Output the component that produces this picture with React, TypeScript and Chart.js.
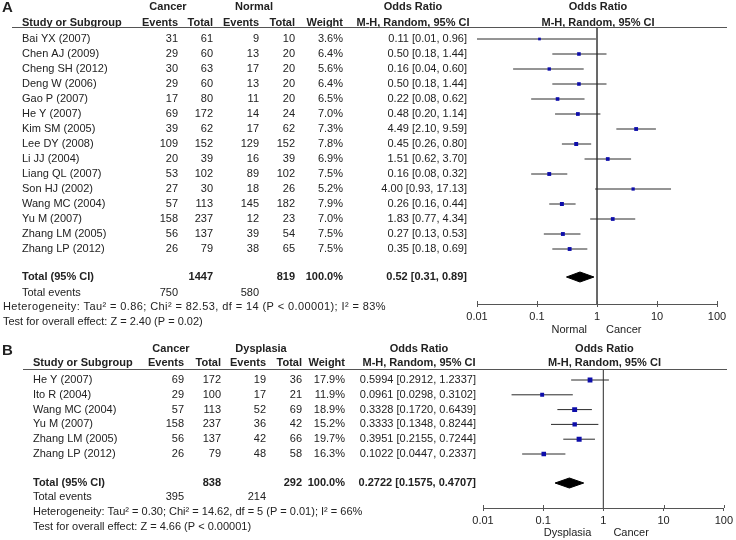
import React, { useEffect, useRef } from "react";
import { Chart, registerables } from "chart.js";

Chart.register(...registerables);

// ---------------- Panel A: Cancer vs Normal ----------------
const studiesA = [
  "Bai YX (2007)", "Chen AJ (2009)", "Cheng SH (2012)", "Deng W (2006)", "Gao P (2007)",
  "He Y (2007)", "Kim SM (2005)", "Lee DY (2008)", "Li JJ (2004)", "Liang QL (2007)",
  "Son HJ (2002)", "Wang MC (2004)", "Yu M (2007)", "Zhang LM (2005)", "Zhang LP (2012)",
];
const cancerEventsA = [31, 29, 30, 29, 17, 69, 39, 109, 20, 53, 27, 57, 158, 56, 26];
const cancerTotalA = [61, 60, 63, 60, 80, 172, 62, 152, 39, 102, 30, 113, 237, 137, 79];
const normalEventsA = [9, 13, 17, 13, 11, 14, 17, 129, 16, 89, 18, 145, 12, 39, 38];
const normalTotalA = [10, 20, 20, 20, 20, 24, 62, 152, 39, 102, 26, 182, 23, 54, 65];
const weightA = [3.6, 6.4, 5.6, 6.4, 6.5, 7.0, 7.3, 7.8, 6.9, 7.5, 5.2, 7.9, 7.0, 7.5, 7.5];
const oddsA = [0.11, 0.5, 0.16, 0.5, 0.22, 0.48, 4.49, 0.45, 1.51, 0.16, 4.0, 0.26, 1.83, 0.27, 0.35];
const lowerA = [0.01, 0.18, 0.04, 0.18, 0.08, 0.2, 2.1, 0.26, 0.62, 0.08, 0.93, 0.16, 0.77, 0.13, 0.18];
const upperA = [0.96, 1.44, 0.6, 1.44, 0.62, 1.14, 9.59, 0.8, 3.7, 0.32, 17.13, 0.44, 4.34, 0.53, 0.69];
const groupTotalsA = [1447, 819];
const totalEventsA = [750, 580];
const pooledA = [0.52, 0.31, 0.89];
const heterogeneityA = "Heterogeneity: Tau\u00b2 = 0.86; Chi\u00b2 = 82.53, df = 14 (P < 0.00001); I\u00b2 = 83%";
const overallA = "Test for overall effect: Z = 2.40 (P = 0.02)";

// ---------------- Panel B: Cancer vs Dysplasia ----------------
const studiesB = ["He Y (2007)", "Ito R (2004)", "Wang MC (2004)", "Yu M (2007)", "Zhang LM (2005)", "Zhang LP (2012)"];
const cancerEventsB = [69, 29, 57, 158, 56, 26];
const cancerTotalB = [172, 100, 113, 237, 137, 79];
const dysEventsB = [19, 17, 52, 36, 42, 48];
const dysTotalB = [36, 21, 69, 42, 66, 58];
const weightB = [17.9, 11.9, 18.9, 15.2, 19.7, 16.3];
const oddsB = [0.5994, 0.0961, 0.3328, 0.3333, 0.3951, 0.1022];
const lowerB = [0.2912, 0.0298, 0.172, 0.1348, 0.2155, 0.0447];
const upperB = [1.2337, 0.3102, 0.6439, 0.8244, 0.7244, 0.2337];
const groupTotalsB = [838, 292];
const totalEventsB = [395, 214];
const pooledB = [0.2722, 0.1575, 0.4707];
const heterogeneityB = "Heterogeneity: Tau\u00b2 = 0.30; Chi\u00b2 = 14.62, df = 5 (P = 0.01); I\u00b2 = 66%";
const overallB = "Test for overall effect: Z = 4.66 (P < 0.00001)";

// ---------------- Axis ----------------
const axisTicks = [0.01, 0.1, 1, 10, 100];
const axisTickLabels = ["0.01", "0.1", "1", "10", "100"];

// ---------------- Styles / layout ----------------
const FONT = '"Liberation Sans", Arial, Helvetica, sans-serif';
const TEXT = "#222222";
const MARK = "#0d0daa";
const WHISKER = "#2a2a2a";
const RULE = "#555555";
const W = 736;
const TICK_LEN = 3;
const AXIS_H = TICK_LEN + 11 * 1.2 + 6;

const layoutA = {
  height: 338, top: 27, axis: 304, row0: 39, step: 15,
  plotLeft: 477, plotRight: 717,
  name: 22, e1: 178, t1: 213, e2: 259, t2: 295, w: 343, or: 467,
  orHeader: 413, g1: 168, g2: 254, lineX0: 12, lineX1: 727,
  letterY: 8, hdr1: 7, hdr2: 23, totalY: 277, eventsY: 293, hetY: 307, testY: 322, sideY: 330,
  footX: 3, eventsX: 22, hetSpacing: "0.4px", sideL: 10, sideR: 9, markK: 1.0, decimals: 2,
};
const layoutB = {
  height: 202, top: 31, axis: 170, row0: 42, step: 14.8,
  plotLeft: 483, plotRight: 726,
  name: 33, e1: 184, t1: 221, e2: 266, t2: 302, w: 345, or: 476,
  orHeader: 419, g1: 171, g2: 261, lineX0: 23, lineX1: 727,
  letterY: 13, hdr1: 11, hdr2: 25, totalY: 145, eventsY: 159, hetY: 174, testY: 189, sideY: 195,
  footX: 33, eventsX: 33, hetSpacing: "0px", sideL: 12, sideR: 10, markK: 0.8, decimals: 4,
};

const specA = {
  letter: "A", group1: "Cancer", group2: "Normal",
  names: studiesA, e1: cancerEventsA, t1: cancerTotalA, e2: normalEventsA, t2: normalTotalA,
  w: weightA, or: oddsA, lo: lowerA, hi: upperA,
  totals: groupTotalsA, events: totalEventsA, pooled: pooledA,
  het: heterogeneityA, test: overallA, L: layoutA,
};
const specB = {
  letter: "B", group1: "Cancer", group2: "Dysplasia",
  names: studiesB, e1: cancerEventsB, t1: cancerTotalB, e2: dysEventsB, t2: dysTotalB,
  w: weightB, or: oddsB, lo: lowerB, hi: upperB,
  totals: groupTotalsB, events: totalEventsB, pooled: pooledB,
  het: heterogeneityB, test: overallB, L: layoutB,
};

function buildConfig(spec: any): any {
  const L = spec.L;
  const yMin = (L.top - L.row0) / L.step;
  const yMax = (L.axis - L.row0) / L.step;
  const totalRow = (L.totalY - L.row0) / L.step;
  const half = 5 / L.step;
  const n = spec.names.length;
  const [p, plo, phi] = spec.pooled;

  const datasets: any[] = [];
  datasets.push({
    label: "OR",
    data: spec.or.map((v: number, i: number) => ({ x: v, y: i })),
    pointStyle: "rect",
    pointRadius: spec.w.map((w: number) => L.markK * Math.sqrt(w)),
    backgroundColor: MARK,
    borderColor: MARK,
    borderWidth: 0,
    showLine: false,
    order: 0,
  });
  for (let i = 0; i < n; i++) {
    datasets.push({
      label: "CI " + spec.names[i],
      data: [{ x: spec.lo[i], y: i }, { x: spec.hi[i], y: i }],
      showLine: true,
      borderColor: WHISKER,
      borderWidth: 1,
      pointRadius: 0,
      order: 1,
    });
  }
  datasets.push({
    label: "Pooled",
    data: [
      { x: plo, y: totalRow },
      { x: p, y: totalRow - half },
      { x: phi, y: totalRow },
      { x: p, y: totalRow + half },
      { x: plo, y: totalRow },
    ],
    showLine: true,
    fill: "shape",
    backgroundColor: "#000",
    borderColor: "#000",
    borderWidth: 1,
    pointRadius: 0,
    tension: 0,
    order: 1,
  });
  datasets.push({
    label: "No effect",
    data: [{ x: 1, y: yMin }, { x: 1, y: yMax }],
    showLine: true,
    borderColor: RULE,
    borderWidth: 1,
    pointRadius: 0,
    order: 2,
  });

  const tablePlugin = {
    id: "table" + spec.letter,
    afterDraw(chart: any) {
      const ctx = chart.ctx;
      const ys = chart.scales.y;
      const xs = chart.scales.x;
      const Y = (py: number) => ys.getPixelForValue((py - L.row0) / L.step);
      const R = (i: number) => ys.getPixelForValue(i);
      const one = xs.getPixelForValue(1);
      const plotC = one + 1;
      const t = (s: string, x: number, y: number, align: string, bold = false, size = 11) => {
        ctx.font = (bold ? "bold " : "") + size + "px " + FONT;
        ctx.textAlign = align;
        ctx.fillText(s, x, y);
      };
      ctx.save();
      ctx.fillStyle = TEXT;
      ctx.textBaseline = "middle";
      t(spec.letter, 2, Y(L.letterY), "left", true, 15);
      // header row 1
      t(spec.group1, L.g1, Y(L.hdr1), "center", true);
      t(spec.group2, L.g2, Y(L.hdr1), "center", true);
      t("Odds Ratio", L.orHeader, Y(L.hdr1), "center", true);
      t("Odds Ratio", plotC, Y(L.hdr1), "center", true);
      // header row 2
      const h2 = Y(L.hdr2);
      t("Study or Subgroup", L.name, h2, "left", true);
      t("Events", L.e1, h2, "right", true);
      t("Total", L.t1, h2, "right", true);
      t("Events", L.e2, h2, "right", true);
      t("Total", L.t2, h2, "right", true);
      t("Weight", L.w, h2, "right", true);
      t("M-H, Random, 95% CI", L.orHeader, h2, "center", true);
      t("M-H, Random, 95% CI", plotC, h2, "center", true);
      // rule
      ctx.strokeStyle = RULE;
      ctx.lineWidth = 1;
      ctx.beginPath();
      const ry = Math.round(chart.chartArea.top) + 0.5;
      ctx.moveTo(L.lineX0, ry);
      ctx.lineTo(L.lineX1, ry);
      ctx.stroke();
      // study rows
      const d = L.decimals;
      for (let i = 0; i < n; i++) {
        const y = R(i);
        t(spec.names[i], L.name, y, "left");
        t(String(spec.e1[i]), L.e1, y, "right");
        t(String(spec.t1[i]), L.t1, y, "right");
        t(String(spec.e2[i]), L.e2, y, "right");
        t(String(spec.t2[i]), L.t2, y, "right");
        t(spec.w[i].toFixed(1) + "%", L.w, y, "right");
        t(spec.or[i].toFixed(d) + " [" + spec.lo[i].toFixed(d) + ", " + spec.hi[i].toFixed(d) + "]", L.or, y, "right");
      }
      // total row
      const ty = R(totalRow);
      t("Total (95% CI)", L.name, ty, "left", true);
      t(String(spec.totals[0]), L.t1, ty, "right", true);
      t(String(spec.totals[1]), L.t2, ty, "right", true);
      t("100.0%", L.w, ty, "right", true);
      t(p.toFixed(d) + " [" + plo.toFixed(d) + ", " + phi.toFixed(d) + "]", L.or, ty, "right", true);
      // footer
      const ey = Y(L.eventsY);
      t("Total events", L.eventsX, ey, "left");
      t(String(spec.events[0]), L.e1, ey, "right");
      t(String(spec.events[1]), L.e2, ey, "right");
      if ("letterSpacing" in ctx) (ctx as any).letterSpacing = L.hetSpacing;
      t(spec.het, L.footX, Y(L.hetY), "left");
      if ("letterSpacing" in ctx) (ctx as any).letterSpacing = "0px";
      t(spec.test, L.footX, Y(L.testY), "left");
      // favours labels
      const sy = Y(L.sideY);
      t(spec.group2, one - L.sideL, sy, "right");
      t(spec.group1, one + L.sideR, sy, "left");
      // upper half of tick marks
      ctx.strokeStyle = RULE;
      ctx.beginPath();
      const ay = chart.chartArea.bottom;
      for (const v of axisTicks) {
        const x = Math.round(xs.getPixelForValue(v)) + 0.5;
        ctx.moveTo(x, ay - TICK_LEN);
        ctx.lineTo(x, ay);
      }
      ctx.stroke();
      ctx.restore();
    },
  };

  return {
    type: "scatter",
    data: { datasets },
    options: {
      responsive: false,
      animation: false,
      events: [],
      layout: {
        padding: { left: L.plotLeft, right: W - L.plotRight, top: L.top, bottom: L.height - L.axis - AXIS_H },
      },
      plugins: { legend: { display: false }, tooltip: { enabled: false }, title: { display: false } },
      scales: {
        x: {
          type: "logarithmic",
          position: "bottom",
          min: 0.01,
          max: 100,
          afterBuildTicks: (axis: any) => {
            axis.ticks = axisTicks.map((v) => ({ value: v }));
          },
          grid: { drawOnChartArea: false, drawTicks: true, tickLength: TICK_LEN, color: RULE, lineWidth: 1 },
          border: { display: true, color: RULE, width: 1 },
          ticks: {
            autoSkip: false,
            maxRotation: 0,
            padding: 3,
            color: TEXT,
            font: { family: FONT, size: 11 },
            callback: (_v: any, i: number) => axisTickLabels[i],
          },
        },
        y: { type: "linear", display: false, min: yMin, max: yMax, reverse: true },
      },
    },
    plugins: [tablePlugin],
  };
}

function ForestPanel({ spec }: { spec: any }) {
  const ref = useRef<HTMLCanvasElement>(null);
  useEffect(() => {
    const chart = new Chart(ref.current as HTMLCanvasElement, buildConfig(spec));
    return () => chart.destroy();
  }, [spec]);
  return (
    <canvas
      ref={ref}
      width={W}
      height={spec.L.height}
      style={{ display: "block", width: W, height: spec.L.height }}
    />
  );
}

export default function App() {
  return (
    <div style={{ position: "absolute", left: 0, top: 0, width: W, height: 540, background: "#ffffff" }}>
      <ForestPanel spec={specA} />
      <ForestPanel spec={specB} />
    </div>
  );
}
